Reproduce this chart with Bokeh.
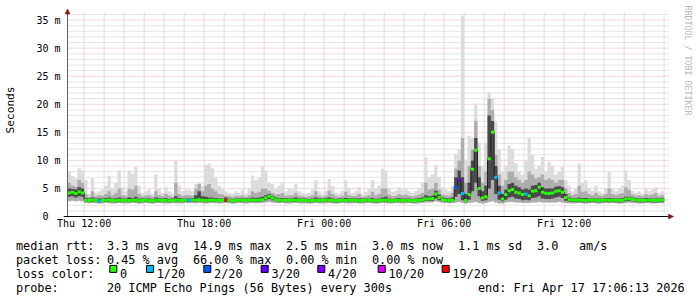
import numpy as np
from bokeh.plotting import figure
from bokeh.layouts import column
from bokeh.models import Range1d, FixedTicker, Arrow, NormalHead
from bokeh.core.properties import value
from bokeh.embed import file_html
from bokeh.resources import INLINE

# ---------------- data (hours relative to Thu 12:00, values in ms) ----------------
start_hour = -50 / 60.0      # Thu 11:10
step_hours = 10 / 60.0       # one value per 10 minutes

median = [
    4.2, 4.3, 4.1, 4.4, 4.2, 2.9, 2.85, 2.95, 2.9, 2.8, 2.85, 2.9, 2.95, 2.85, 2.8, 2.9, 2.85, 2.9,
    2.85, 2.9, 2.95, 2.8, 2.85, 2.9, 2.85, 2.8, 2.9, 2.95, 2.85, 2.9, 2.8, 2.85, 2.95, 2.9, 2.85, 2.9,
    2.9, 2.95, 2.9, 3.0, 2.9, 2.85, 2.9, 2.95, 2.9, 2.85, 2.9, 2.95, 2.9, 2.8, 2.85, 2.9, 2.95, 2.85,
    2.9, 2.95, 2.9, 2.95, 3.0, 3.3, 3.6, 3.3, 3.0, 2.95, 2.9, 2.85, 2.9, 2.95, 2.9, 2.85, 2.9, 2.85,
    2.8, 2.85, 2.9, 2.85, 2.9, 2.95, 2.9, 2.85, 2.8, 2.85, 2.9, 2.85, 2.9, 2.95, 2.85, 2.8, 2.85, 2.9,
    2.9, 2.85, 2.8, 2.85, 2.9, 2.95, 2.85, 2.8, 2.85, 2.9, 2.85, 2.9, 2.85, 2.8, 2.85, 2.9, 2.95, 3.1,
    3.1, 3.2, 4.0, 3.4, 3.0, 2.9, 2.85, 2.9, 5.2, 6.5, 4.1, 2.85, 3.9, 8.4, 11.8, 5.0, 3.3, 3.5,
    10.3, 15.0, 7.0, 4.2, 3.1, 3.9, 4.6, 4.8, 4.3, 4.2, 3.9, 4.0, 3.7, 4.5, 4.6, 5.2, 4.3, 4.15,
    4.1, 4.2, 4.5, 4.6, 4.3, 3.4, 3.0, 2.95, 2.9, 2.95, 2.9, 2.85, 2.9, 2.95, 2.9, 2.85, 2.9, 2.95,
    2.9, 2.95, 2.9, 2.85, 2.9, 3.1, 3.15, 3.05, 2.95, 2.9, 2.85, 2.9, 2.95, 2.9, 2.85, 2.9, 2.95,
]
smoke_max = [
    8.0, 7.2, 6.8, 8.6, 8.2, 6.5, 4.0, 6.8, 4.2, 4.5, 4.8, 5.5, 7.3, 5.0, 6.0, 8.2, 5.2, 4.5,
    8.2, 7.6, 8.8, 5.5, 4.2, 4.5, 4.8, 4.0, 7.5, 5.0, 4.2, 5.2, 4.5, 4.0, 10.0, 5.5, 4.5, 4.8,
    4.8, 4.5, 5.8, 6.0, 5.5, 9.2, 9.4, 8.6, 7.0, 5.5, 5.0, 4.5, 4.2, 4.0, 4.5, 4.2, 4.8, 4.0,
    5.0, 7.3, 6.5, 7.0, 9.0, 8.2, 6.0, 5.8, 5.0, 5.5, 6.0, 4.5, 5.0, 4.8, 5.9, 4.5, 4.2, 4.0,
    4.2, 4.8, 6.4, 4.5, 4.0, 4.6, 6.7, 5.5, 4.2, 4.0, 4.6, 6.4, 5.0, 4.2, 4.5, 5.2, 4.0, 4.4,
    5.0, 6.4, 5.0, 5.5, 8.5, 8.2, 5.0, 4.4, 4.6, 5.2, 4.8, 5.0, 4.5, 4.2, 4.6, 5.0, 6.0, 10.5,
    7.0, 7.5, 9.2, 7.0, 5.2, 4.8, 4.5, 5.5, 11.2, 12.0, 35.8, 10.0, 14.4, 14.0, 20.1, 13.2, 9.0, 13.2,
    22.1, 21.0, 16.8, 12.0, 8.0, 9.0, 12.6, 12.0, 9.5, 8.0, 7.5, 10.0, 14.0, 11.0, 8.5, 9.0, 10.6, 8.0,
    9.7, 9.0, 7.5, 8.0, 8.8, 6.5, 5.5, 4.5, 5.0, 9.4, 6.0, 6.4, 5.0, 4.6, 5.5, 4.5, 4.2, 5.0,
    7.9, 5.0, 4.5, 5.0, 5.5, 8.2, 6.5, 4.6, 4.2, 4.5, 4.0, 5.0, 4.5, 4.8, 5.2, 4.2, 4.5,
]
smoke_mid = [
    6.0, 5.5, 5.3, 6.5, 6.0, 4.0, 3.5, 4.5, 3.6, 3.8, 3.7, 4.0, 4.5, 3.8, 4.2, 5.0, 3.8, 3.6,
    5.0, 4.8, 5.5, 4.0, 3.6, 3.7, 3.8, 3.5, 4.5, 3.8, 3.6, 4.0, 3.7, 3.5, 6.0, 4.0, 3.7, 3.8,
    3.8, 3.7, 5.0, 5.8, 4.5, 5.5, 5.8, 5.0, 4.5, 4.0, 3.9, 3.7, 3.6, 3.5, 3.7, 3.6, 3.8, 3.5,
    3.8, 4.5, 4.2, 4.4, 5.0, 5.0, 4.6, 4.2, 3.9, 4.0, 4.2, 3.7, 3.8, 3.8, 4.2, 3.7, 3.6, 3.5,
    3.6, 3.8, 4.5, 3.7, 3.5, 3.7, 4.6, 4.0, 3.6, 3.5, 3.7, 4.4, 3.8, 3.6, 3.7, 4.0, 3.5, 3.6,
    3.8, 4.4, 3.8, 4.0, 5.0, 5.0, 3.9, 3.6, 3.7, 4.0, 3.8, 3.9, 3.7, 3.6, 3.7, 3.9, 4.2, 6.0,
    4.8, 5.0, 6.0, 4.8, 3.9, 3.8, 3.7, 4.2, 8.5, 10.0, 14.0, 6.0, 9.0, 12.0, 17.0, 9.0, 6.0, 8.0,
    21.0, 19.0, 11.0, 7.5, 5.5, 6.5, 8.0, 8.0, 7.0, 6.5, 6.0, 6.5, 8.0, 7.5, 6.8, 7.0, 7.5, 6.5,
    6.8, 6.5, 6.0, 6.5, 6.5, 5.0, 4.2, 3.8, 4.0, 5.5, 4.4, 4.5, 4.0, 3.8, 4.2, 3.8, 3.7, 4.0,
    5.0, 4.0, 3.8, 4.0, 4.2, 5.2, 4.8, 3.9, 3.7, 3.8, 3.6, 4.0, 3.8, 3.9, 4.2, 3.7, 3.8,
]
smoke_core = [
    5.0, 4.9, 4.8, 5.2, 5.0, 3.3, 3.2, 3.4, 3.2, 3.2, 3.2, 3.3, 3.4, 3.2, 3.2, 3.4, 3.2, 3.2,
    3.4, 3.3, 3.5, 3.2, 3.2, 3.2, 3.2, 3.1, 3.4, 3.3, 3.2, 3.3, 3.1, 3.2, 3.6, 3.3, 3.2, 3.2,
    3.2, 3.3, 3.8, 4.5, 3.6, 3.5, 3.4, 3.4, 3.3, 3.2, 3.2, 3.4, 3.2, 3.1, 3.2, 3.2, 3.3, 3.2,
    3.2, 3.4, 3.3, 3.4, 3.5, 3.8, 4.0, 3.7, 3.4, 3.3, 3.3, 3.2, 3.2, 3.3, 3.4, 3.2, 3.2, 3.2,
    3.1, 3.2, 3.4, 3.2, 3.2, 3.3, 3.4, 3.2, 3.1, 3.2, 3.2, 3.3, 3.2, 3.3, 3.2, 3.2, 3.2, 3.2,
    3.2, 3.3, 3.1, 3.2, 3.4, 3.5, 3.2, 3.1, 3.2, 3.3, 3.2, 3.2, 3.2, 3.1, 3.2, 3.3, 3.4, 3.8,
    3.6, 3.7, 4.6, 3.9, 3.4, 3.3, 3.2, 3.4, 7.0, 8.2, 7.0, 4.0, 6.0, 10.0, 14.0, 7.0, 4.5, 5.5,
    18.0, 17.0, 9.0, 5.5, 4.0, 4.8, 5.8, 6.0, 5.5, 5.2, 4.8, 5.0, 4.8, 5.5, 5.6, 6.0, 5.2, 5.0,
    5.0, 5.0, 5.3, 5.4, 5.2, 4.0, 3.4, 3.3, 3.2, 3.4, 3.3, 3.3, 3.2, 3.3, 3.2, 3.2, 3.2, 3.3,
    3.3, 3.3, 3.2, 3.2, 3.3, 3.5, 3.5, 3.4, 3.3, 3.2, 3.2, 3.3, 3.3, 3.2, 3.2, 3.2, 3.3,
]
smoke_core_low = [
    3.5, 3.6, 3.4, 3.6, 3.5, 2.6, 2.55, 2.6, 2.6, 2.5, 2.55, 2.6, 2.65, 2.55, 2.5, 2.6, 2.55, 2.6,
    2.55, 2.6, 2.65, 2.5, 2.55, 2.6, 2.55, 2.5, 2.6, 2.65, 2.55, 2.6, 2.5, 2.55, 2.65, 2.6, 2.55, 2.6,
    2.6, 2.65, 2.6, 2.7, 2.6, 2.55, 2.6, 2.65, 2.6, 2.55, 2.6, 2.65, 2.6, 2.5, 2.55, 2.6, 2.65, 2.55,
    2.6, 2.65, 2.6, 2.65, 2.7, 2.9, 3.1, 2.9, 2.7, 2.65, 2.6, 2.55, 2.6, 2.65, 2.6, 2.55, 2.6, 2.55,
    2.5, 2.55, 2.6, 2.55, 2.6, 2.65, 2.6, 2.55, 2.5, 2.55, 2.6, 2.55, 2.6, 2.65, 2.55, 2.5, 2.55, 2.6,
    2.6, 2.55, 2.5, 2.55, 2.6, 2.65, 2.55, 2.5, 2.55, 2.6, 2.55, 2.6, 2.55, 2.5, 2.55, 2.6, 2.65, 2.75,
    2.75, 2.8, 3.2, 2.9, 2.7, 2.6, 2.55, 2.6, 3.5, 4.0, 2.9, 2.55, 3.0, 4.5, 6.0, 3.6, 2.8, 2.9,
    5.0, 6.5, 4.0, 3.0, 2.7, 3.0, 3.4, 3.5, 3.2, 3.1, 2.9, 3.0, 2.9, 3.3, 3.4, 3.6, 3.2, 3.1,
    3.1, 3.2, 3.4, 3.5, 3.3, 2.8, 2.65, 2.6, 2.55, 2.6, 2.55, 2.5, 2.55, 2.6, 2.55, 2.5, 2.55, 2.6,
    2.55, 2.6, 2.55, 2.5, 2.55, 2.7, 2.75, 2.7, 2.6, 2.55, 2.5, 2.55, 2.6, 2.55, 2.5, 2.55, 2.6,
]
smoke_min = [
    2.7, 2.8, 2.7, 2.8, 2.7, 2.4, 2.35, 2.4, 2.35, 2.3, 2.35, 2.4, 2.35, 2.3, 2.35, 2.4, 2.35, 2.3,
    2.35, 2.4, 2.35, 2.3, 2.35, 2.4, 2.35, 2.3, 2.35, 2.4, 2.35, 2.3, 2.35, 2.4, 2.35, 2.3, 2.35, 2.4,
    2.35, 2.4, 2.35, 2.4, 2.35, 2.3, 2.35, 2.4, 2.35, 2.3, 2.35, 2.4, 2.35, 2.3, 2.35, 2.4, 2.35, 2.3,
    2.35, 2.4, 2.35, 2.4, 2.45, 2.5, 2.6, 2.5, 2.4, 2.35, 2.4, 2.35, 2.3, 2.35, 2.4, 2.35, 2.3, 2.35,
    2.3, 2.35, 2.4, 2.35, 2.3, 2.35, 2.4, 2.35, 2.3, 2.35, 2.4, 2.35, 2.3, 2.35, 2.4, 2.35, 2.3, 2.35,
    2.4, 2.35, 2.3, 2.35, 2.4, 2.35, 2.3, 2.35, 2.4, 2.35, 2.3, 2.35, 2.4, 2.35, 2.3, 2.35, 2.4, 2.5,
    2.5, 2.55, 2.7, 2.6, 2.45, 2.4, 2.35, 2.4, 2.5, 2.6, 2.4, 2.3, 2.4, 2.5, 2.6, 2.4, 2.3, 2.4,
    2.6, 2.7, 2.5, 2.3, 2.3, 2.5, 2.6, 2.6, 2.5, 2.5, 2.4, 2.4, 2.4, 2.5, 2.5, 2.6, 2.5, 2.5,
    2.5, 2.5, 2.5, 2.6, 2.5, 2.4, 2.35, 2.3, 2.35, 2.4, 2.35, 2.3, 2.35, 2.4, 2.35, 2.3, 2.35, 2.4,
    2.35, 2.4, 2.35, 2.3, 2.35, 2.4, 2.45, 2.4, 2.35, 2.3, 2.35, 2.4, 2.35, 2.3, 2.35, 2.4, 2.35,
]

# packet loss (pings lost out of 20) at the steps where it was non-zero
loss_step = [9, 36, 47, 116, 117, 118, 128, 129, 137]
loss_count = [1, 1, 13.2, 2, 3, 1, 1, 1, 1]

loss_thresholds = [0, 1, 2, 3, 4, 10, 19]
loss_labels = ["0", "1/20", "2/20", "3/20", "4/20", "10/20", "19/20"]
loss_colors = ["#26ff00", "#00b8ff", "#0059ff", "#5e00ff", "#7e00ff", "#dd00ff", "#ff0000"]

x_tick_hours = [0, 6, 12, 18, 24]
x_tick_labels = ["Thu 12:00", "Thu 18:00", "Fri 00:00", "Fri 06:00", "Fri 12:00"]
y_ticks = [0, 5, 10, 15, 20, 25, 30, 35]
y_tick_labels = ["0\u00a0\u00a0", "5 m", "10 m", "15 m", "20 m", "25 m", "30 m", "35 m"]

stats_rows = [
    ["median rtt:", "3.3 ms avg", "14.9 ms max", "2.5 ms min", "3.0 ms now", "1.1 ms sd", "3.0", "am/s"],
    ["packet loss:", "0.45 % avg", "66.00 % max", "0.00 % min", "0.00 % now"],
]
probe_text = "20 ICMP Echo Pings (56 Bytes) every 300s"
end_text = "end: Fri Apr 17 17:06:13 2026"
watermark = "RRDTOOL / TOBI OETIKER"

# ---------------- derived geometry ----------------
n = len(median)
t_start = start_hour + np.arange(n) * step_hours
t_end = t_start + step_hours
edges = np.append(t_start, t_end[-1])


def ext(a):
    return np.append(np.asarray(a, dtype=float), a[-1])


loss = np.zeros(n)
loss[loss_step] = loss_count


def loss_color(l):
    for th, c in zip(loss_thresholds, loss_colors):
        if l <= th:
            return c
    return loss_colors[-1]


seg_colors = [loss_color(l) for l in loss]

MONO = "DejaVu Sans Mono"
PX_PER_H = 20.0          # horizontal scale
PX_PER_MS = 5.611        # vertical scale
FRAME_L, FRAME_W = 63, 634
FRAME_B, FRAME_H = 13, 219
X0 = start_hour - (67 - FRAME_L) / PX_PER_H
X1 = X0 + FRAME_W / PX_PER_H
Y0 = -3 / PX_PER_MS
Y1 = Y0 + FRAME_H / PX_PER_MS

p = figure(width=697, height=232, x_range=Range1d(X0, X1), y_range=Range1d(Y0, Y1),
           output_backend="svg", toolbar_location=None,
           min_border_left=FRAME_L, min_border_right=0, min_border_top=0, min_border_bottom=FRAME_B)
p.background_fill_color = "white"
p.border_fill_color = "white"
p.outline_line_color = None
p.xgrid.visible = False
p.ygrid.visible = False
if hasattr(p, "frame_align"):
    p.frame_align = False

# grid (drawn under the data, as rrdtool does)
grid_top = 36.4
grid_right = 29.22
hours = np.arange(0, 30)
major_h = [h for h in hours if h % 3 == 0]
minor_h = [h for h in hours if h % 3 != 0]
ms = np.arange(1, 37)
major_v = [v for v in ms if v % 5 == 0]
minor_v = [v for v in ms if v % 5 != 0]
minor_col = "#cacaca"
major_col = "#e8b0b0"
p.segment(x0=minor_h, x1=minor_h, y0=0, y1=grid_top, line_color=minor_col, line_dash="1 1", line_width=1)
p.segment(x0=start_hour, x1=grid_right, y0=minor_v, y1=minor_v, line_color=minor_col, line_dash="1 1", line_width=1)
p.segment(x0=major_h, x1=major_h, y0=0, y1=grid_top, line_color=major_col, line_dash="1 1", line_width=1)
p.segment(x0=start_hour, x1=grid_right, y0=major_v, y1=major_v, line_color=major_col, line_dash="1 1", line_width=1)

# smoke
p.varea_step(x=edges, y1=ext(smoke_min), y2=ext(smoke_max), step_mode="after", fill_color="#dcdcdc")
p.varea_step(x=edges, y1=ext(smoke_min), y2=ext(smoke_mid), step_mode="after", fill_color="#adadad")
p.varea_step(x=edges, y1=ext(smoke_core_low), y2=ext(smoke_core), step_mode="after", fill_color="#4a4a4a")

# median
p.step(x=edges, y=ext(median), mode="after", line_color="#202020", line_width=1)
p.segment(x0=t_start, x1=t_end, y0=median, y1=median, line_color=seg_colors, line_width=3, line_cap="butt")

# axis lines and arrows (drawn inside the frame)
arrow_col = "#8b1010"
p.segment(x0=[start_hour], x1=[start_hour], y0=[0], y1=[grid_top], line_color="#606060", line_width=1)
p.segment(x0=[start_hour - 0.2], x1=[grid_right], y0=[0], y1=[0], line_color="black", line_width=1)
y_tip = 37.0
x_tip = 29.4667
p.add_layout(Arrow(x_start=start_hour, y_start=grid_top, x_end=start_hour, y_end=y_tip, line_alpha=0,
                   end=NormalHead(size=5, fill_color=arrow_col, line_color=arrow_col, line_width=0.5)))
p.add_layout(Arrow(x_start=grid_right, y_start=0, x_end=x_tip, y_end=0, line_alpha=0,
                   end=NormalHead(size=5, fill_color=arrow_col, line_color=arrow_col, line_width=0.5)))

# watermark
p.text(x=[30.19], y=[37.6], text=[watermark], angle=-np.pi / 2, text_align="left",
       text_baseline="middle", text_font=value(MONO), text_font_size="8.3px", text_color="#b8b8b8")

# axes (labels only)
p.xaxis.ticker = FixedTicker(ticks=x_tick_hours)
p.xaxis.major_label_overrides = {h: s for h, s in zip(x_tick_hours, x_tick_labels)}
p.yaxis.ticker = FixedTicker(ticks=y_ticks)
p.yaxis.major_label_overrides = {v: s for v, s in zip(y_ticks, y_tick_labels)}
for ax in (p.xaxis, p.yaxis):
    ax.axis_line_color = None
    ax.major_tick_out = 0
    ax.major_tick_in = 0
    ax.minor_tick_out = 0
    ax.minor_tick_in = 0
    ax.major_label_text_font = MONO
    ax.major_label_text_font_size = "10px"
    ax.major_label_text_color = "black"
p.xaxis.major_label_standoff = -2
p.yaxis.major_label_standoff = 3
p.yaxis.axis_label = "Seconds"
p.yaxis.axis_label_text_font = MONO
p.yaxis.axis_label_text_font_size = "11.2px"
p.yaxis.axis_label_text_font_style = "normal"
p.yaxis.axis_label_text_color = "black"
p.yaxis.axis_label_standoff = 16

# ---------------- legend / statistics block ----------------
leg = figure(width=697, height=65, x_range=Range1d(0, 697), y_range=Range1d(65, 0),
             output_backend="svg", toolbar_location=None, min_border=0,
             x_axis_location=None, y_axis_location=None)
leg.grid.visible = False
leg.outline_line_color = None
leg.background_fill_color = "white"
leg.border_fill_color = "white"
if hasattr(leg, "frame_align"):
    leg.frame_align = False

row_y = [13, 27, 41, 55]
col_x = [15.4, 106.4, 192.4, 285.4, 371.4, 457.4, 536.4, 578.4]
tx, ty, tt = [], [], []
for r, row in enumerate(stats_rows):
    for c, s in enumerate(row):
        tx.append(col_x[c]); ty.append(row_y[r]); tt.append(s)
tx += [15.4]; ty += [row_y[2]]; tt += ["loss color:"]
swatch_x = [109.3, 146.0, 203.3, 260.7, 317.3, 377.7, 441.7]
for sx, lab in zip(swatch_x, loss_labels):
    tx.append(sx + 10.2); ty.append(row_y[2]); tt.append(lab)
tx += [15.4, 106.4, 477.4]; ty += [row_y[3]] * 3; tt += ["probe:", probe_text, end_text]
leg.text(x=tx, y=ty, text=tt, text_font=value(MONO), text_font_size="11.85px",
         text_baseline="alphabetic", text_align="left", text_color="black")
leg.rect(x=[sx + 3.5 for sx in swatch_x], y=row_y[2] - 4.6, width=7, height=7,
         fill_color=loss_colors, line_color="black", line_width=1)

layout = column(p, leg, spacing=0)
open("out.html", "w").write(file_html(layout, INLINE))
